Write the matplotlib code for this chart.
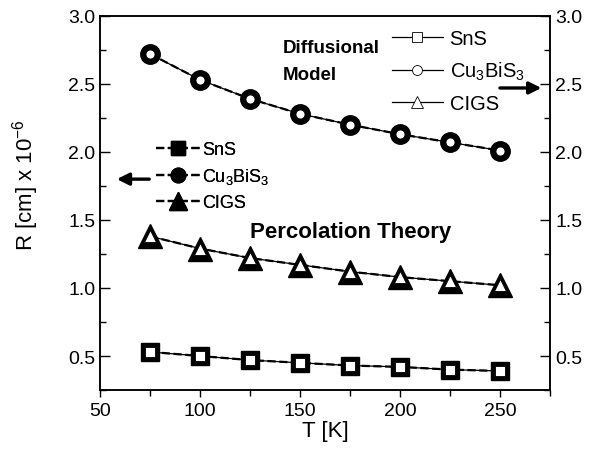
import matplotlib
matplotlib.use("Agg")
import matplotlib.pyplot as plt
from matplotlib.ticker import MultipleLocator

plt.rcParams['font.family'] = ['Liberation Sans', 'DejaVu Sans']
plt.rcParams['mathtext.fontset'] = 'custom'
plt.rcParams['mathtext.rm'] = 'Liberation Sans'
plt.rcParams['mathtext.it'] = 'Liberation Sans:italic'
plt.rcParams['mathtext.bf'] = 'Liberation Sans:bold'

# data
T = [75, 100, 125, 150, 175, 200, 225, 250]
sns_R = [0.53, 0.50, 0.47, 0.45, 0.43, 0.42, 0.40, 0.39]
cbs_R = [2.72, 2.53, 2.39, 2.28, 2.20, 2.13, 2.07, 2.01]
cigs_R = [1.38, 1.29, 1.22, 1.17, 1.12, 1.08, 1.05, 1.02]
labels = ['SnS', 'Cu$_3$BiS$_3$', 'CIGS']
markers = ['s', 'o', '^']

fig = plt.figure(figsize=(5.9, 4.56), dpi=100)
ax = fig.add_axes([0.1695, 0.1425, 0.763, 0.8205])
ax2 = ax.twinx()

series = [sns_R, cbs_R, cigs_R]
big = {'s': 13, 'o': 14, '^': 17}
small = {'s': 6.5, 'o': 6.5, '^': 8}

# percolation theory (left axis, filled)
filled = []
for y, m, lab in zip(series, markers, labels):
    l, = ax.plot(T, y, color='black', ls='--', lw=1.6, marker=m,
                 ms=big[m], mfc='black', mec='black', mew=1, label=lab)
    filled.append(l)

# diffusional model (right axis, open)
opened = []
for y, m, lab in zip(series, markers, labels):
    l, = ax2.plot(T, y, color='black', ls='-', lw=0.9, marker=m,
                  ms=small[m], mfc='white', mec='black', mew=0.6, label=lab)
    opened.append(l)

for a in (ax, ax2):
    a.set_xlim(50, 275)
    a.set_ylim(0.25, 3.0)
    a.yaxis.set_major_locator(MultipleLocator(0.5))
    a.yaxis.set_minor_locator(MultipleLocator(0.25))
    a.tick_params(axis='y', which='both', direction='in', labelsize=14)
    a.tick_params(axis='y', which='major', length=7, width=1)
    a.tick_params(axis='y', which='minor', length=4, width=1)
    for s in a.spines.values():
        s.set_linewidth(1.1)

ax.xaxis.set_major_locator(MultipleLocator(50))
ax.xaxis.set_minor_locator(MultipleLocator(25))
ax.tick_params(axis='x', which='both', direction='out', labelsize=14)
ax.tick_params(axis='x', which='major', length=5, width=1)
ax.tick_params(axis='x', which='minor', length=4, width=1)
ax.set_yticklabels(['%.1f' % v for v in ax.get_yticks()])
ax2.set_yticklabels(['%.1f' % v for v in ax2.get_yticks()])

ax.set_xlabel('T [K]', fontsize=16, labelpad=1)
ax.set_ylabel('R [cm] x 10$^{-6}$', fontsize=16)
ax.yaxis.set_label_coords(-0.13, 0.55)

leg1 = ax.legend(handles=filled, loc='upper left', bbox_to_anchor=(0.125, 0.665),
                 frameon=False, fontsize=13, markerscale=0.75, handlelength=2.4,
                 handletextpad=0.15, labelspacing=0.45, borderpad=0, borderaxespad=0)
ax.add_artist(leg1)
ax2.legend(handles=opened, loc='upper left', bbox_to_anchor=(0.649, 0.965),
           frameon=False, fontsize=14.5, markerscale=1.1, handlelength=2.5,
           handletextpad=0.35, labelspacing=0.6, borderpad=0, borderaxespad=0)

ax.text(0.405, 0.915, 'Diffusional', transform=ax.transAxes, fontsize=13.5,
        fontweight='bold', va='center', ha='left')
ax.text(0.405, 0.843, 'Model', transform=ax.transAxes, fontsize=13.5,
        fontweight='bold', va='center', ha='left')
ax.text(0.333, 0.425, 'Percolation Theory', transform=ax.transAxes, fontsize=16,
        fontweight='bold', va='center', ha='left')

arrow = dict(arrowstyle='-|>', color='black', lw=2.4, mutation_scale=18)
ax.annotate('', xy=(57, 1.80), xytext=(76, 1.80), arrowprops=arrow)
ax2.annotate('', xy=(272, 2.47), xytext=(248.5, 2.47), arrowprops=arrow)

fig.savefig('out.png', dpi=100)
